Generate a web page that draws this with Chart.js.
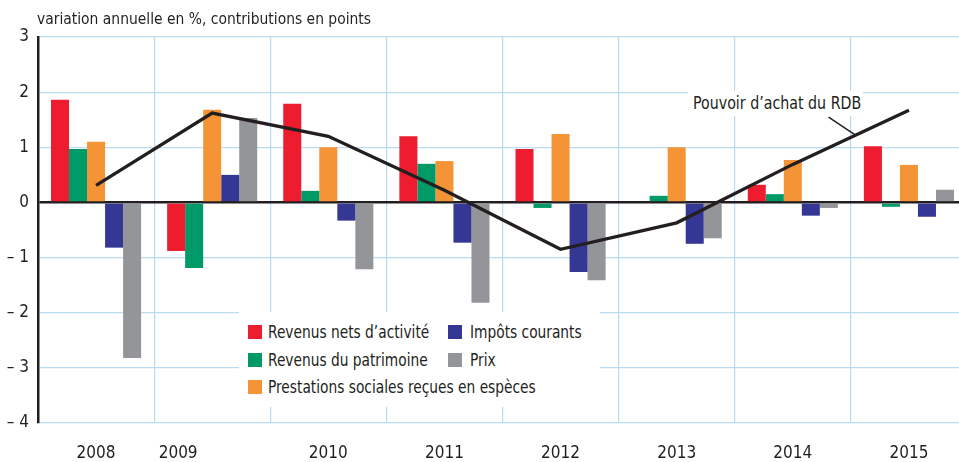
<!DOCTYPE html>
<html>
<head>
<meta charset="utf-8">
<script src="https://cdn.jsdelivr.net/npm/chart.js@4"></script>
<style>
  html, body { margin: 0; padding: 0; background: #fff; overflow: hidden; width: 959px; height: 462px; }
  #wrap { position: relative; width: 967px; height: 462px; }
  canvas { position: absolute; left: 0; top: 0; }
  .txt { font-family: "Liberation Sans Narrow", "DejaVu Sans Condensed", "Roboto", sans-serif; color: #231f20; }
  #title { position: absolute; left: 37px; top: 9px; font-size: 16px; line-height: 20px; white-space: nowrap; transform: scaleX(0.965); transform-origin: 0 50%; }
  #legend { position: absolute; left: 239px; top: 312px; width: 361px; height: 95px; background: #fff; }
  .item { position: absolute; font-size: 17px; line-height: 18px; white-space: nowrap; transform: scaleX(0.9); transform-origin: 0 50%; }
  .sw { position: absolute; width: 14px; height: 14px; }
  #annot { position: absolute; left: 688px; top: 91px; width: 175px; height: 25px; background: #fff; }
  #annot span { position: absolute; left: 5px; top: 0; font-size: 17px; line-height: 25px; white-space: nowrap; transform: scaleX(0.93); transform-origin: 0 50%; }
</style>
</head>
<body>
<div id="wrap">
  <canvas id="c" width="967" height="462"></canvas>
  <div id="title" class="txt">variation annuelle en %, contributions en points</div>
  <div id="legend" class="txt"></div>
  <div id="annot" class="txt"><span>Pouvoir d’achat du RDB</span></div>
</div>
<script>
const years = ['2008', '2009', '2010', '2011', '2012', '2013', '2014', '2015'];
const revenusActivite = [1.86, -0.88, 1.79, 1.20, 0.97, 0.00, 0.32, 1.02];
const revenusPatrimoine = [0.97, -1.19, 0.21, 0.70, -0.10, 0.12, 0.15, -0.08];
const prestationsSociales = [1.10, 1.68, 1.00, 0.75, 1.24, 1.00, 0.77, 0.68];
const impotsCourants = [-0.82, 0.50, -0.33, -0.73, -1.26, -0.75, -0.24, -0.26];
const prix = [-2.82, 1.53, -1.21, -1.82, -1.41, -0.65, -0.10, 0.23];
const pouvoirAchat = [0.31, 1.62, 1.20, 0.22, -0.85, -0.37, 0.69, 1.67];
const yTicks = [-4, -3, -2, -1, 0, 1, 2, 3];

const seriesNames = ['Revenus nets d’activité', 'Revenus du patrimoine', 'Prestations sociales reçues en espèces', 'Impôts courants', 'Prix'];
const seriesColors = ['#ED1C2E', '#009A68', '#F59436', '#353795', '#949599'];
const seriesData = [revenusActivite, revenusPatrimoine, prestationsSociales, impotsCourants, prix];
const lineName = 'Pouvoir d’achat du RDB';

const FONT = '"Liberation Sans Narrow", "DejaVu Sans Condensed", Roboto, sans-serif';
const GRID = '#BADCF0';
const INK = '#231f20';

const datasets = seriesData.map((d, i) => ({
  type: 'bar',
  label: seriesNames[i],
  data: d,
  backgroundColor: seriesColors[i],
  borderWidth: 0,
  categoryPercentage: 0.776,
  barPercentage: 1.0,
  order: 2
}));
datasets.push({
  type: 'line',
  label: lineName,
  data: pouvoirAchat,
  borderColor: '#231f20',
  borderWidth: 3.3,
  pointRadius: 0,
  tension: 0,
  fill: false,
  order: 0
});

const leaderPlugin = {
  id: 'leader',
  afterDatasetsDraw(chart) {
    const meta = chart.getDatasetMeta(datasets.length - 1);
    const a = meta.data[6], b = meta.data[7];
    const t = 0.54;
    const x = a.x + (b.x - a.x) * t, y = a.y + (b.y - a.y) * t;
    const ctx = chart.ctx;
    ctx.save();
    ctx.strokeStyle = '#231f20';
    ctx.lineWidth = 1.5;
    ctx.beginPath();
    ctx.moveTo(x, y);
    ctx.lineTo(x - 27, y - 18);
    ctx.stroke();
    ctx.restore();
  }
};

// 2009 label sits left of its group centre in the original
const labelPad = { '2009': '\u2007\u2007\u2007\u2007\u2007\u2007\u2007' };

new Chart(document.getElementById('c'), {
  data: { labels: years, datasets },
  options: {
    responsive: false,
    animation: false,
    devicePixelRatio: 1,
    layout: { padding: { top: 37, right: 0, bottom: 0, left: 0 } },
    plugins: { legend: { display: false }, tooltip: { enabled: false }, title: { display: false } },
    scales: {
      x: {
        type: 'category',
        offset: true,
        grid: { offset: true, color: GRID, lineWidth: 1.2, drawTicks: false },
        border: { display: false },
        ticks: {
          font: { family: FONT, size: 17 },
          color: INK,
          padding: 20,
          maxRotation: 0,
          autoSkip: false,
          callback: function (v, i) { const l = years[i]; return l + (labelPad[l] || ''); }
        },
        afterFit(s) { s.height = 39; }
      },
      y: {
        min: yTicks[0],
        max: yTicks[yTicks.length - 1],
        afterBuildTicks(s) { s.ticks = yTicks.map(v => ({ value: v })); },
        grid: {
          drawTicks: false,
          color: c => (c.tick && c.tick.value === 0) ? '#231f20' : GRID,
          lineWidth: c => (c.tick && c.tick.value === 0) ? 2.5 : 1.2
        },
        border: { color: '#231f20', width: 2.5 },
        ticks: {
          font: { family: FONT, size: 17 },
          color: INK,
          padding: 9,
          callback: v => v < 0 ? '\u2013 ' + Math.abs(v) : String(v)
        },
        afterFit(s) { s.width = 38; }
      }
    }
  },
  plugins: [leaderPlugin]
});

// HTML legend
const legend = document.getElementById('legend');
const pos = [[9, 13], [9, 41], [9, 68], [209, 13], [209, 41]];
const gap = [6, 6, 6, 8, 8];
seriesNames.forEach((n, i) => {
  const sw = document.createElement('div');
  sw.className = 'sw';
  sw.style.left = pos[i][0] + 'px';
  sw.style.top = pos[i][1] + 'px';
  sw.style.background = seriesColors[i];
  legend.appendChild(sw);
  const it = document.createElement('div');
  it.className = 'item';
  it.style.left = (pos[i][0] + 14 + gap[i]) + 'px';
  it.style.top = (pos[i][1] - 2) + 'px';
  it.textContent = n;
  legend.appendChild(it);
});
</script>
</body>
</html>
